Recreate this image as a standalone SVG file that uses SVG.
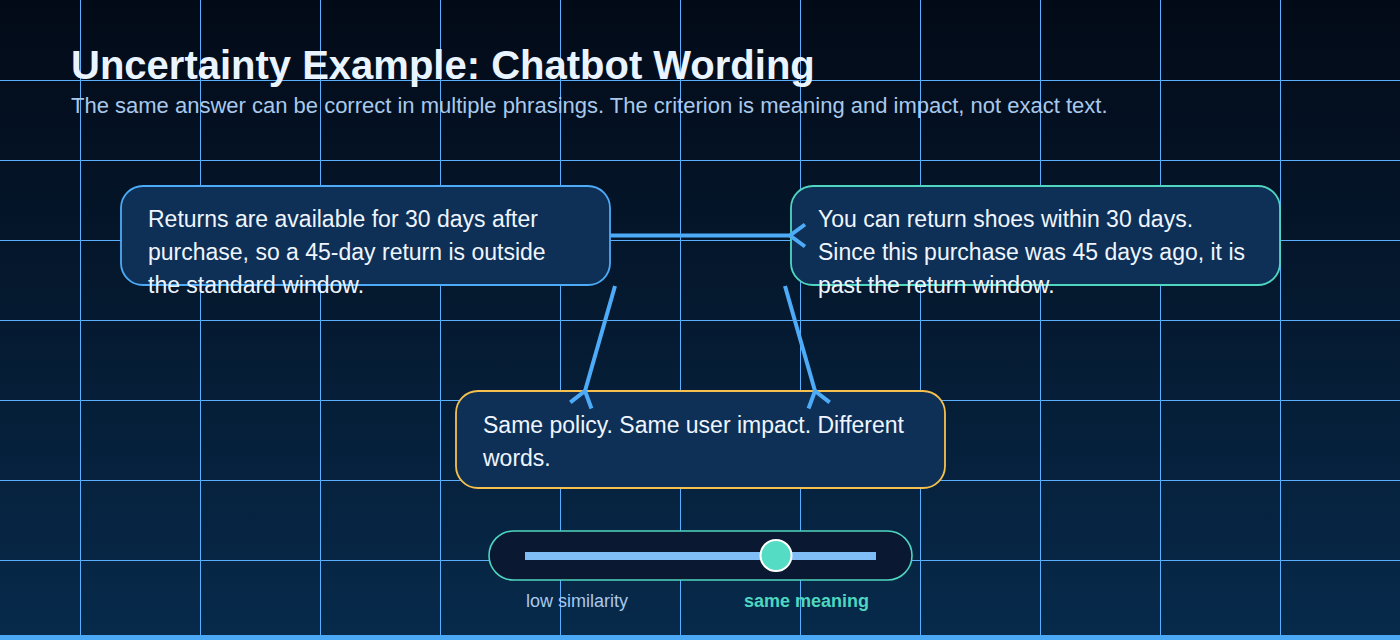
<svg xmlns="http://www.w3.org/2000/svg" width="1400" height="640" viewBox="0 0 1400 640">
  <defs>
    <linearGradient id="bg" x1="0" y1="0" x2="0" y2="1">
      <stop offset="0" stop-color="#030a17"/>
      <stop offset="1" stop-color="#072a4b"/>
    </linearGradient>
    <marker id="arr" markerUnits="userSpaceOnUse" markerWidth="40" markerHeight="40" refX="0" refY="0" viewBox="-5 -20 40 40" orient="auto" overflow="visible">
      <path d="M15,-11 L0,0 L15,11" fill="none" stroke="#4dabf7" stroke-width="4"/>
    </marker>
    <style>
      .grid line { stroke: #5aafff; stroke-width: 1; }
      .box { fill: #0e3056; stroke-width: 1.8; }
      .bt { font-family: "Liberation Sans", Arial, sans-serif; font-size: 23px; fill: #eef5ff; }
      .conn { stroke: #4dabf7; stroke-width: 4; fill: none; }
    </style>
  </defs>
  <rect x="0" y="0" width="1400" height="640" fill="url(#bg)"/>
  <g class="grid">
    <line x1="80.5" y1="0" x2="80.5" y2="640"/>
    <line x1="200.5" y1="0" x2="200.5" y2="640"/>
    <line x1="320.5" y1="0" x2="320.5" y2="640"/>
    <line x1="440.5" y1="0" x2="440.5" y2="640"/>
    <line x1="560.5" y1="0" x2="560.5" y2="640"/>
    <line x1="680.5" y1="0" x2="680.5" y2="640"/>
    <line x1="800.5" y1="0" x2="800.5" y2="640"/>
    <line x1="920.5" y1="0" x2="920.5" y2="640"/>
    <line x1="1040.5" y1="0" x2="1040.5" y2="640"/>
    <line x1="1160.5" y1="0" x2="1160.5" y2="640"/>
    <line x1="1280.5" y1="0" x2="1280.5" y2="640"/>
    <line x1="0" y1="80.5" x2="1400" y2="80.5"/>
    <line x1="0" y1="160.5" x2="1400" y2="160.5"/>
    <line x1="0" y1="240.5" x2="1400" y2="240.5"/>
    <line x1="0" y1="320.5" x2="1400" y2="320.5"/>
    <line x1="0" y1="400.5" x2="1400" y2="400.5"/>
    <line x1="0" y1="480.5" x2="1400" y2="480.5"/>
    <line x1="0" y1="560.5" x2="1400" y2="560.5"/>
  </g>
  <g id="title">
    <text x="71" y="79" font-family="Liberation Sans, Arial, sans-serif" font-size="40" font-weight="bold" fill="#eaf4ff">Uncertainty Example: Chatbot Wording</text>
    <text x="71" y="113" font-family="Liberation Sans, Arial, sans-serif" font-size="22" fill="#a9c9ec">The same answer can be correct in multiple phrasings. The criterion is meaning and impact, not exact text.</text>
  </g>
  <g id="node-policy">
    <rect class="box" x="121" y="186" width="489" height="99" rx="22" stroke="#4dabf7"/>
    <text class="bt" x="148" y="227">Returns are available for 30 days after</text>
    <text class="bt" x="148" y="260">purchase, so a 45-day return is outside</text>
    <text class="bt" x="148" y="293">the standard window.</text>
  </g>
  <g id="node-chatbot">
    <rect class="box" x="791" y="186" width="489" height="99" rx="22" stroke="#4fd6c0"/>
    <text class="bt" x="818" y="227">You can return shoes within 30 days.</text>
    <text class="bt" x="818" y="260">Since this purchase was 45 days ago, it is</text>
    <text class="bt" x="818" y="293">past the return window.</text>
  </g>
  <g id="node-verdict">
    <rect class="box" x="456" y="391" width="489" height="97" rx="22" stroke="#f5c04e"/>
    <text class="bt" x="483" y="433">Same policy. Same user impact. Different</text>
    <text class="bt" x="483" y="466">words.</text>
  </g>
  <g id="connectors">
    <line class="conn" x1="610" y1="235.5" x2="790" y2="235.5" marker-end="url(#arr)"/>
    <line class="conn" x1="615" y1="286" x2="585" y2="391" marker-end="url(#arr)"/>
    <line class="conn" x1="785" y1="286" x2="815" y2="391" marker-end="url(#arr)"/>
  </g>
  <g id="slider">
    <rect x="489" y="531" width="423" height="49" rx="24.5" fill="#0a1931" stroke="#4fd6c0" stroke-width="1.6"/>
    <rect x="525" y="552" width="351" height="8" fill="#80bcf6"/>
    <circle cx="776" cy="555.5" r="15.5" fill="#55dcc5" stroke="#ffffff" stroke-width="2"/>
    <text x="526" y="607" font-family="Liberation Sans, Arial, sans-serif" font-size="18" fill="#a9c9ec">low similarity</text>
    <text x="744" y="607" font-family="Liberation Sans, Arial, sans-serif" font-size="18" font-weight="bold" fill="#4fd6c0">same meaning</text>
  </g>
  <rect x="0" y="635" width="1400" height="5" fill="#4aa8f5"/>
</svg>
